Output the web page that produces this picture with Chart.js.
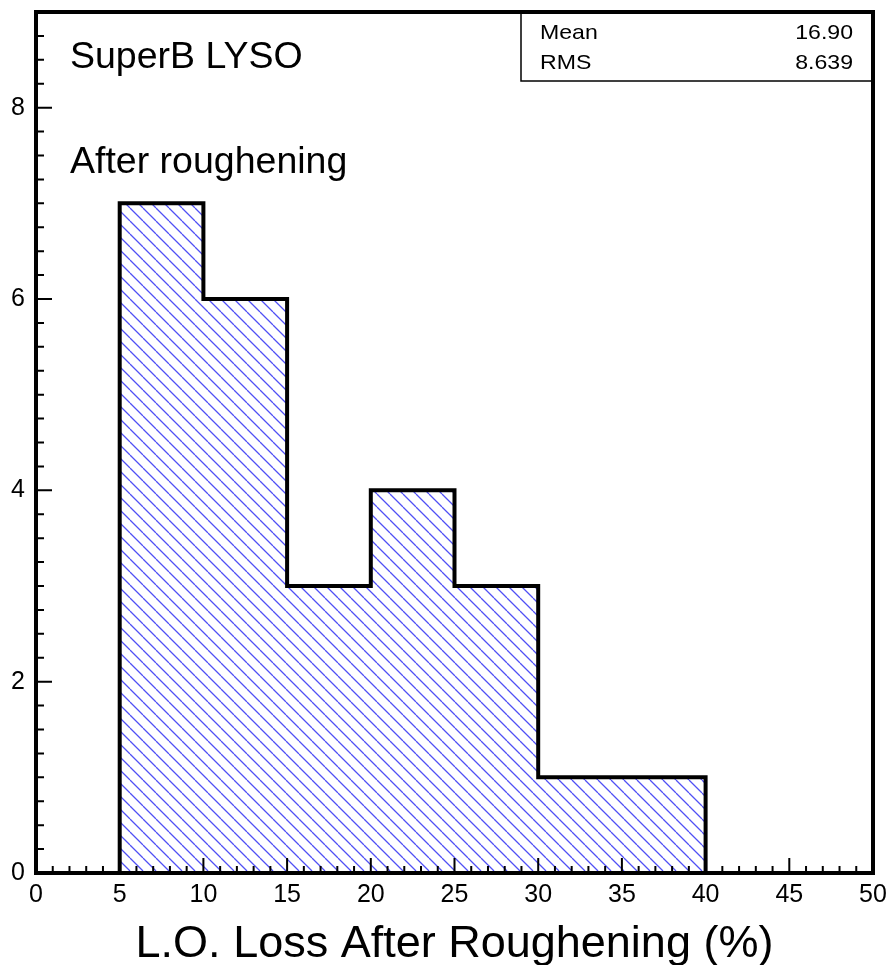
<!DOCTYPE html>
<html>
<head>
<meta charset="utf-8">
<title>SuperB LYSO - L.O. loss after roughening</title>
<script src="https://cdn.jsdelivr.net/npm/chart.js@4/dist/chart.umd.min.js"></script>
<style>
  html, body { margin: 0; padding: 0; background: #ffffff; }
  #wrap { width: 889px; height: 965px; }
</style>
</head>
<body>
<div id="wrap"><canvas id="hist" width="889" height="965"></canvas></div>
<script>
// histogram bins (percent loss) and entries per bin
const binEdges = [5, 10, 15, 20, 25, 30, 35, 40];
const binCounts = [7, 6, 3, 4, 3, 1, 1];

// stats box
const statNames = ['Mean', 'RMS'];
const statValues = ['16.90', '8.639'];

// axis ranges / ticks
const xRange = [0, 50];
const yRange = [0, 9];
const xMajorStep = 5, xMinorStep = 1;
const yMajorStep = 2, yMinorStep = 0.25;

const FONT = '"Liberation Sans", Arial, Helvetica, sans-serif';

// outline of the histogram as a step path
function stepPoints(edges, counts) {
    const pts = [{ x: edges[0], y: 0 }];
    for (let i = 0; i < counts.length; i++) {
        pts.push({ x: edges[i], y: counts[i] });
        pts.push({ x: edges[i + 1], y: counts[i] });
    }
    pts.push({ x: edges[edges.length - 1], y: 0 });
    return pts;
}

// diagonal "\\\" hatch used as fill
function hatchPattern() {
    const s = 13;
    const c = document.createElement('canvas');
    c.width = s; c.height = s;
    const g = c.getContext('2d');
    g.strokeStyle = 'rgb(80,80,245)';
    g.lineWidth = 1.3;
    g.beginPath();
    for (let k = -1; k <= 1; k++) {
        g.moveTo(0, k * s);
        g.lineTo(s, s + k * s);
    }
    g.stroke();
    return g.createPattern(c, 'repeat');
}

function range(from, to, step) {
    const out = [];
    for (let v = from; v <= to + 1e-9; v += step) out.push(+v.toFixed(4));
    return out;
}

// frame, inward ticks, labels and stats box
const rootFrame = {
    id: 'rootFrame',
    afterDatasetsDraw(chart) {
        const { ctx, chartArea: a, scales: { x, y } } = chart;
        ctx.save();
        ctx.strokeStyle = '#000';

        // ticks on the x axis
        ctx.lineWidth = 2;
        ctx.beginPath();
        range(xRange[0], xRange[1], xMinorStep).forEach(v => {
            const px = x.getPixelForValue(v);
            const len = (Math.abs(v % xMajorStep) < 1e-6) ? 15 : 7;
            ctx.moveTo(px, a.bottom);
            ctx.lineTo(px, a.bottom - len);
        });
        // ticks on the y axis
        range(yRange[0], yRange[1], yMinorStep).forEach(v => {
            const py = y.getPixelForValue(v);
            const len = (Math.abs(v % yMajorStep) < 1e-6) ? 16 : 8;
            ctx.moveTo(a.left, py);
            ctx.lineTo(a.left + len, py);
        });
        ctx.stroke();

        // stats box
        const bx = 521, by = a.top, bw = a.right - bx, bh = 69;
        ctx.fillStyle = '#fff';
        ctx.fillRect(bx, by, bw, bh);
        ctx.lineWidth = 1.5;
        ctx.strokeRect(bx, by, bw, bh);
        ctx.fillStyle = '#000';
        ctx.textBaseline = 'alphabetic';
        ctx.font = '21px ' + FONT;
        statNames.forEach((name, i) => {
            const base = by + 27 + i * 30;
            ctx.save();
            ctx.translate(bx + 19, base);
            ctx.scale(1.1, 1);
            ctx.textAlign = 'left';
            ctx.fillText(name, 0, 0);
            ctx.restore();
            ctx.save();
            ctx.translate(a.right - 20, base);
            ctx.scale(1.1, 1);
            ctx.textAlign = 'right';
            ctx.fillText(statValues[i], 0, 0);
            ctx.restore();
        });

        // frame
        ctx.lineWidth = 4;
        ctx.strokeRect(a.left, a.top, a.right - a.left, a.bottom - a.top);

        // labels inside the pad
        ctx.font = '37.5px ' + FONT;
        ctx.textAlign = 'left';
        ctx.fillText('SuperB LYSO', 70, 68);
        ctx.fillText('After roughening', 70, 173);
        ctx.restore();
    }
};

const ctx = document.getElementById('hist').getContext('2d');
const histChart = new Chart(ctx, {
    type: 'line',
    data: {
        datasets: [{
            label: 'L.O. loss',
            data: stepPoints(binEdges, binCounts),
            borderColor: '#000000',
            borderWidth: 4,
            borderJoinStyle: 'miter',
            borderCapStyle: 'butt',
            backgroundColor: hatchPattern(),
            fill: 'origin',
            pointRadius: 0,
            tension: 0
        }]
    },
    options: {
        responsive: false,
        animation: false,
        devicePixelRatio: 1,
        layout: { padding: { top: 12, right: 16, left: 0, bottom: 0 } },
        plugins: {
            legend: { display: false },
            tooltip: { enabled: false }
        },
        scales: {
            x: {
                type: 'linear',
                min: xRange[0],
                max: xRange[1],
                grid: { display: false, drawTicks: false },
                border: { display: false },
                ticks: {
                    stepSize: xMajorStep,
                    includeBounds: false,
                    maxRotation: 0,
                    autoSkip: false,
                    padding: 7,
                    color: '#000',
                    font: { family: FONT, size: 25 }
                },
                title: {
                    display: true,
                    text: 'L.O. Loss After Roughening (%)',
                    color: '#000',
                    font: { family: FONT, size: 45, lineHeight: 0.9 },
                    padding: { top: 0, bottom: 0 }
                },
                afterFit: scale => {
                    scale.height = 92;
                    scale.paddingLeft = 0;
                    scale.paddingRight = 0;
                }
            },
            y: {
                type: 'linear',
                min: yRange[0],
                max: yRange[1],
                grid: { display: false, drawTicks: false },
                border: { display: false },
                ticks: {
                    stepSize: yMajorStep,
                    includeBounds: false,
                    padding: 11,
                    color: '#000',
                    font: { family: FONT, size: 25 }
                },
                afterFit: scale => {
                    scale.width = 36;
                    scale.paddingTop = 0;
                    scale.paddingBottom = 0;
                }
            }
        }
    },
    plugins: [rootFrame]
});
</script>
</body>
</html>
